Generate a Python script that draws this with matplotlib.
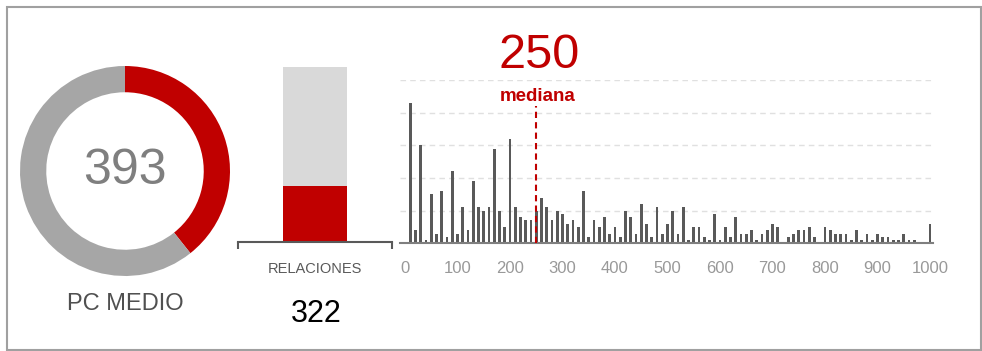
import matplotlib.pyplot as plt
from matplotlib.patches import Rectangle

plt.rcParams['font.family'] = ['Liberation Sans', 'DejaVu Sans']

RED = '#C00000'

# PC medio (donut)
pc_medio = 393
pc_max = 1000

# relaciones (barra)
relaciones = 322
relaciones_max = 1000

# distribucion de PC
pc_bins = list(range(10, 1001, 10))
pc_counts = [43, 4, 30, 1, 15, 3, 16, 2, 22, 3,
             11, 4, 19, 11, 10, 11, 29, 10, 5, 32,
             11, 8, 7, 7, 10, 14, 11, 7, 10, 9,
             6, 7, 5, 16, 2, 7, 5, 8, 3, 5,
             2, 10, 8, 3, 12, 6, 2, 11, 3, 6,
             10, 3, 11, 1, 5, 5, 2, 1, 9, 1,
             5, 2, 8, 3, 3, 4, 1, 3, 4, 6,
             5, 0, 2, 3, 4, 4, 5, 2, 0, 5,
             4, 3, 3, 3, 1, 4, 1, 3, 1, 3,
             2, 2, 1, 1, 3, 1, 1, 0, 0, 6]
mediana = 250
x_ticks = list(range(0, 1001, 100))

W, H = 982, 351
fig = plt.figure(figsize=(W / 100, H / 100), dpi=100)


def px(l, t, r, b):
    return [l / W, 1 - b / H, (r - l) / W, (b - t) / H]


# marco exterior
fig.patches.append(Rectangle((7 / W, 1 - 350 / H), 974 / W, 343 / H,
                             transform=fig.transFigure, fill=False,
                             edgecolor='#A0A0A0', linewidth=1.5))

# donut
ax1 = fig.add_axes(px(20, 66, 230, 276))
ax1.pie([pc_medio, pc_max - pc_medio], colors=[RED, '#A6A6A6'],
        startangle=90, counterclock=False, radius=1,
        wedgeprops=dict(width=0.25, linewidth=0))
ax1.set_xlim(-1, 1)
ax1.set_ylim(-1, 1)
ax1.set_aspect('equal')
ax1.text(0, 0, str(pc_medio), ha='center', va='center', fontsize=36,
         color='#7F7F7F')
fig.text(125 / W, 1 - 304 / H, 'PC MEDIO', ha='center', va='center',
         fontsize=17, color='#505050')

# barra relaciones
ax2 = fig.add_axes(px(238, 67, 392, 242))
ax2.bar(0, relaciones_max, width=0.41, color='#D9D9D9')
ax2.bar(0, relaciones, width=0.41, color=RED)
ax2.set_xlim(-0.5, 0.5)
ax2.set_ylim(0, relaciones_max)
for s in ['top', 'left', 'right']:
    ax2.spines[s].set_visible(False)
ax2.spines['bottom'].set_color('#595959')
ax2.spines['bottom'].set_linewidth(1.5)
ax2.set_xticks([-0.5, 0.5])
ax2.set_xticklabels([])
ax2.tick_params(axis='x', length=5, width=1.5, color='#595959')
ax2.set_yticks([])
fig.text(315 / W, 1 - 269 / H, 'RELACIONES', ha='center', va='center',
         fontsize=10.5, color='#595959')
fig.text(316 / W, 1 - 314 / H, str(relaciones), ha='center', va='center',
         fontsize=22, color='black')

# histograma
ax3 = fig.add_axes(px(399.75, 80, 932.6, 243.3))
ax3.bar(pc_bins, pc_counts, width=5.5, color='#595959', zorder=2)
ax3.set_xlim(-10, 1005)
ax3.set_ylim(0, 50)
ax3.set_yticks([10, 20, 30, 40, 50])
ax3.yaxis.grid(True, color='#E0E0E0', linestyle=(0, (4, 3)), linewidth=1,
               zorder=0)
ax3.tick_params(axis='y', length=0, labelleft=False)
ax3.set_xticks(x_ticks)
ax3.tick_params(axis='x', length=0, labelsize=12, labelcolor='#999999', pad=13)
for s in ['top', 'left', 'right']:
    ax3.spines[s].set_visible(False)
ax3.spines['bottom'].set_color('#7F7F7F')
ax3.spines['bottom'].set_linewidth(1.5)
ax3.set_axisbelow(True)

ax3.plot([mediana, mediana], [0, 42], color=RED, linestyle=(0, (3, 2)),
         linewidth=1.5, zorder=3, clip_on=False)
ax3.text(mediana + 3, 45, 'mediana', ha='center', va='center', fontsize=13.5,
         fontweight='bold', color=RED, clip_on=False)
ax3.text(mediana + 5, 57.5, str(mediana), ha='center', va='center',
         fontsize=35, color=RED, clip_on=False)

fig.savefig('out.png', dpi=100)
